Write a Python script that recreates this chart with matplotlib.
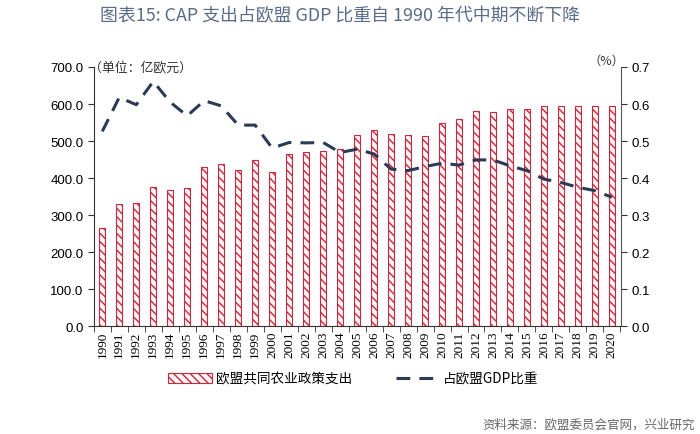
import matplotlib
matplotlib.use("Agg")
import matplotlib.pyplot as plt
from matplotlib.patches import Patch
from matplotlib.lines import Line2D
import numpy as np

years = [str(y) for y in range(1990, 2021)]
cap_spending = [264, 330, 332, 375, 368, 373, 429, 439, 423, 449, 416, 465, 470, 474, 478,
                515, 529, 519, 516, 514, 549, 559, 580, 579, 587, 587, 594, 594, 595, 595, 595]
gdp_share = [0.526, 0.618, 0.598, 0.661, 0.605, 0.568, 0.609, 0.595, 0.543, 0.543, 0.481,
             0.496, 0.495, 0.496, 0.469, 0.478, 0.465, 0.424, 0.420, 0.431, 0.440, 0.435,
             0.449, 0.449, 0.433, 0.420, 0.397, 0.388, 0.375, 0.366, 0.348]
left_ticks = [0, 100, 200, 300, 400, 500, 600, 700]
right_ticks = [0.0, 0.1, 0.2, 0.3, 0.4, 0.5, 0.6, 0.7]

bar_label = "欧盟共同农业政策支出"
line_label = "占欧盟GDP比重"
title = "图表15: CAP 支出占欧盟 GDP 比重自 1990 年代中期不断下降"
unit_left = "（单位：亿欧元）"
unit_right = "（%）"
source = "资料来源：欧盟委员会官网，兴业研究"

CJK = ["Noto Sans CJK SC", "DejaVu Sans"]
RED = "#c8283c"
NAVY = "#2b3a55"

plt.rcParams["hatch.linewidth"] = 1.0

fig = plt.figure(figsize=(7, 4.35), dpi=100)
ax = fig.add_axes([0.134, 0.248, 0.753, 0.5957])
x = np.arange(len(years))

ax.bar(x, cap_spending, width=0.36, color="#fff4f5", edgecolor=RED, hatch="\\\\\\\\",
       linewidth=0.8, zorder=2)
ax.set_xlim(-0.45, len(years) - 1 + 0.53)
ax.set_ylim(0, 700)
ax.set_yticks(left_ticks)
ax.set_yticklabels([f"{v:.1f}" for v in left_ticks], family="Liberation Sans", fontsize=9.5)
ax.set_xticks(x)
ax.set_xticklabels(years, rotation=90, family="Liberation Serif", fontsize=9.5)
ax.tick_params(axis="x", which="major", length=0, pad=3)
ax.set_xticks(np.arange(-0.5, len(years), 1.0), minor=True)
ax.tick_params(axis="x", which="minor", length=4, color="#333333")
ax.tick_params(axis="y", length=4, color="#333333")

for s in ["top", "right"]:
    ax.spines[s].set_visible(False)
ax.spines["left"].set_color("#333333")
ax.spines["bottom"].set_color("#333333")

ax2 = ax.twinx()
ax2.plot(x, gdp_share, color=NAVY, linewidth=2.2, dashes=(4.5, 3), zorder=3)
ax2.set_ylim(0, 0.7)
ax2.set_yticks(right_ticks)
ax2.set_yticklabels([f"{v:.1f}" for v in right_ticks], family="Liberation Sans", fontsize=9.5)
ax2.tick_params(axis="y", length=4, color="#333333")
for s in ["top", "left", "bottom"]:
    ax2.spines[s].set_visible(False)
ax2.spines["right"].set_color("#555555")

fig.text(0.485, 0.962, title, ha="center", va="center", family=CJK, fontsize=12.9, color="#5a6c88")
fig.text(0.127, 0.843, unit_left, ha="left", va="center", family=CJK, fontsize=9.3, color="#333333")
fig.text(0.892, 0.858, unit_right, ha="right", va="center", family=CJK, fontsize=8.8, color="#333333")

handles = [Patch(facecolor="#fff4f5", edgecolor=RED, hatch="\\\\\\\\", linewidth=0.8),
           Line2D([0], [0], color=NAVY, linewidth=2.2, dashes=(4.5, 3))]
leg = fig.legend(handles, [bar_label, line_label], loc="center", bbox_to_anchor=(0.505, 0.127),
                 ncol=2, frameon=False, prop={"family": CJK, "size": 9.8},
                 handlelength=3.2, columnspacing=3.2, handletextpad=0.3)

fig.text(0.993, 0.022, source, ha="right", va="center", family=CJK, fontsize=9, color="#666666")

fig.savefig("out.png", dpi=100)
